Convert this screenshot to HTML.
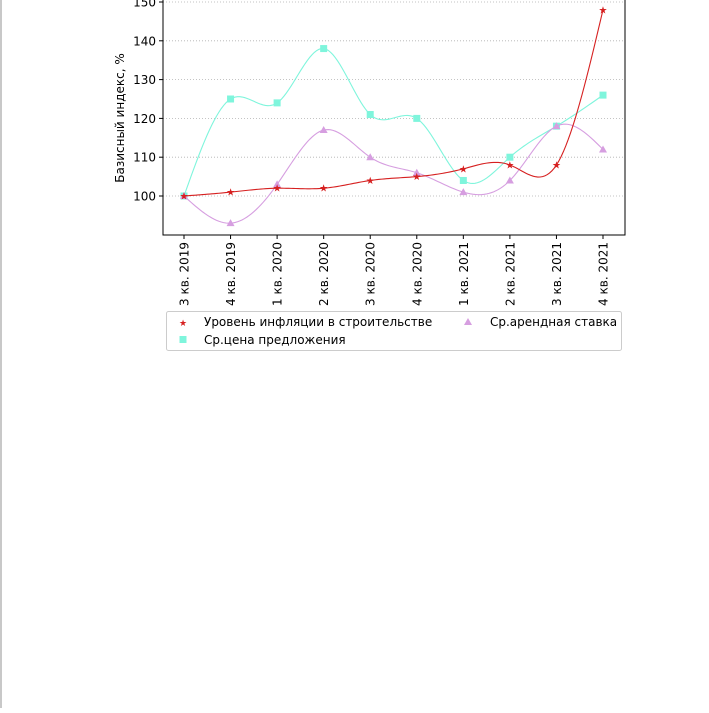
<!DOCTYPE html>
<html><head><meta charset="utf-8"><style>
body{margin:0;background:#fff;width:709px;height:708px;overflow:hidden;font-family:"Liberation Sans","DejaVu Sans",sans-serif}
svg text{font-family:"DejaVu Sans","Liberation Sans",sans-serif}
</style></head><body>
<svg id="c" width="709" height="708">
<rect x="0" y="0" width="2" height="708" fill="#c8c8c8"/>
</svg>
<script>
const categories=["3 кв. 2019","4 кв. 2019","1 кв. 2020","2 кв. 2020","3 кв. 2020","4 кв. 2020","1 кв. 2021","2 кв. 2021","3 кв. 2021","4 кв. 2021"];
const inflation=[100,101,102,102,104,105,107,108,108,148];
const price=[100,125,124,138,121,120,104,110,118,126];
const rent=[100,93,103,117,110,106,101,104,118,112];
const yTicks=[100,110,120,130,140,150];
const NS="http://www.w3.org/2000/svg";
const svg=document.getElementById('c');
const L=163,R=625,B=235;
function X(i){return 184+i*(603-184)/(categories.length-1);}
function Y(v){return 196-(v-100)*3.88;}
function mk(t,a,p){const e=document.createElementNS(NS,t);for(const k in a)e.setAttribute(k,a[k]);(p||svg).appendChild(e);return e;}
// grid + ticks
yTicks.forEach(v=>{
 const g=mk('line',{x1:L,x2:R,y1:Y(v),y2:Y(v),stroke:'#b0b0b0','stroke-width':0.8,'stroke-dasharray':'1,2'});
 
 
 mk('line',{x1:L-4,x2:L,y1:Y(v),y2:Y(v),stroke:'#000'});
 const t=mk('text',{x:L-7,y:Y(v)+4.5,'text-anchor':'end','font-size':12,fill:'#000'});
 t.textContent=v;
 
 
});
const yt=mk('text',{transform:'translate(124,118) rotate(-90)','text-anchor':'middle','font-size':12});
yt.textContent='Базисный индекс, %';


categories.forEach((c,i)=>{
 mk('line',{x1:X(i),x2:X(i),y1:B,y2:B+4,stroke:'#000'});
 const t=mk('text',{transform:`translate(${X(i)+4.5},${B+7}) rotate(-90)`,'text-anchor':'end','font-size':12});
 t.textContent=c;
 
 
});
function spline(vals){
 const n=vals.length,xs=vals.map((_,i)=>X(i)),ys=vals.map(Y);
 const h=[],al=[0];for(let i=0;i<n-1;i++)h.push(xs[i+1]-xs[i]);
 for(let i=1;i<n-1;i++)al.push(3/h[i]*(ys[i+1]-ys[i])-3/h[i-1]*(ys[i]-ys[i-1]));
 const l=[1],mu=[0],z=[0];
 for(let i=1;i<n-1;i++){l[i]=2*(xs[i+1]-xs[i-1])-h[i-1]*mu[i-1];mu[i]=h[i]/l[i];z[i]=(al[i]-h[i-1]*z[i-1])/l[i];}
 const c=new Array(n).fill(0),b=[],d=[];
 for(let j=n-2;j>=0;j--){c[j]=z[j]-mu[j]*c[j+1];b[j]=(ys[j+1]-ys[j])/h[j]-h[j]*(c[j+1]+2*c[j])/3;d[j]=(c[j+1]-c[j])/(3*h[j]);}
 let p='M'+xs[0]+','+ys[0];
 for(let j=0;j<n-1;j++)for(let k=1;k<=20;k++){const dx=h[j]*k/20;p+=' L'+(xs[j]+dx).toFixed(2)+','+(ys[j]+b[j]*dx+c[j]*dx*dx+d[j]*dx*dx*dx).toFixed(2);}
 return p;
}
function marker(type,x,y,col){
 if(type==='sq')return mk('rect',{x:x-3.5,y:y-3.5,width:7,height:7,fill:col});
 if(type==='tri')return mk('polygon',{points:`${x},${y-4} ${x-4},${y+3} ${x+4},${y+3}`,fill:col});
 return mk('text',{x:x,y:y+3.5,'text-anchor':'middle','font-size':10,fill:col},null);
}
const series=[[price,'#7ff5dc','sq','price'],[rent,'#d69ee0','tri','rent'],[inflation,'#d62020','star','inflation']];
series.forEach(([vals,col,m,nm])=>{
 const p=mk('path',{d:spline(vals),fill:'none',stroke:col,'stroke-width':1.1});
 
 
 vals.forEach((v,i)=>{
  const e=marker(m,X(i),Y(v),col);
  if(m==='star')e.textContent='★';
  
  
 });
});
const ax=mk('path',{d:`M${L},-5 L${L},${B} L${R},${B} L${R},-5`,fill:'none',stroke:'#000','stroke-width':1});


// legend
const lg=mk('g',{});


mk('rect',{x:166.5,y:311.5,width:455,height:39,rx:2,fill:'#fff',stroke:'#ccc'},lg);
const s1=mk('text',{x:183,y:326,'text-anchor':'middle','font-size':9,fill:'#d62020'},lg);s1.textContent='★';
const t1=mk('text',{x:204,y:326,'font-size':12},lg);t1.textContent='Уровень инфляции в строительстве';

mk('polygon',{points:'468,318 464,325 472,325',fill:'#d69ee0'},lg);
const t2=mk('text',{x:490,y:326,'font-size':12},lg);t2.textContent='Ср.арендная ставка';

mk('rect',{x:179.5,y:336,width:7,height:7,fill:'#7ff5dc'},lg);
const t3=mk('text',{x:204,y:344,'font-size':12},lg);t3.textContent='Ср.цена предложения';

</script>
</body></html>
